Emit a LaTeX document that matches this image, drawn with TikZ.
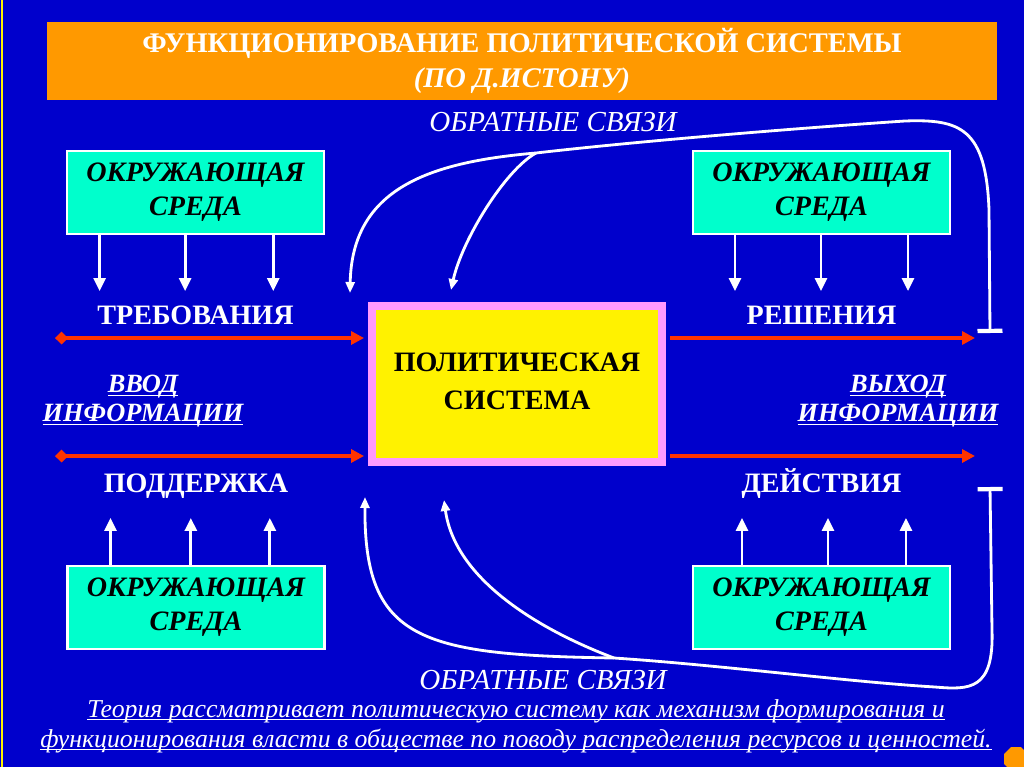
\documentclass[tikz,border=0pt]{standalone}
\usepackage{fontspec}
\setmainfont{Liberation Serif}
\usetikzlibrary{positioning, arrows.meta, calc, shapes.geometric}
\definecolor{slideblue}{RGB}{0,0,204}
\definecolor{titleorange}{RGB}{255,153,0}
\definecolor{envcyan}{RGB}{0,255,204}
\definecolor{syspink}{RGB}{255,153,255}
\definecolor{flowred}{RGB}{255,51,0}
\newcommand{\ulined}[1]{\underline{\smash{#1}}}

\begin{document}
\begin{tikzpicture}[
  x=0.02cm, y=-0.02cm,
  font=\fontsize{16}{19}\selectfont,
  node distance=1.3cm,
  env/.style={rectangle, draw=white, line width=1.2pt, fill=envcyan, minimum width=5.14cm, minimum height=1.66cm, align=center, font=\fontsize{16}{19.3}\selectfont\bfseries\itshape},
  flow/.style={text=white, font=\fontsize{16}{19}\selectfont\bfseries},
  info/.style={text=white, align=center, font=\fontsize{15}{16.4}\selectfont\bfseries\itshape},
  fbtext/.style={text=white, inner sep=1pt, font=\fontsize{16.5}{19}\selectfont\itshape},
  arr/.style={-{Triangle[length=2.6mm, width=2.4mm]}, white, line width=1.6pt},
  redin/.style={{Diamond[length=2.6mm, width=2.6mm]}-{Triangle[length=2.6mm, width=2.6mm]}, flowred, line width=2.2pt},
  redout/.style={-{Triangle[length=2.6mm, width=2.6mm]}, flowred, line width=2.2pt},
  fb/.style={white, line width=1.6pt},
  fbend/.style={fb, {Bar[width=5mm, line width=2.4pt]}-},
  fbarr/.style={fb, -{Triangle[length=2.2mm, width=1.8mm]}}
]
  \useasboundingbox (0,0) rectangle (1024,767);
  \fill[slideblue] (0,0) rectangle (1024,767);
  \draw[yellow, line width=1.1pt] (2,0) -- (2,767);
  \node[rectangle, fill=titleorange, minimum width=19cm, minimum height=1.56cm, align=center, text=white, font=\fontsize{16.2}{20}\selectfont\bfseries] (title) at (522,61) {ФУНКЦИОНИРОВАНИЕ ПОЛИТИЧЕСКОЙ СИСТЕМЫ\\\itshape (ПО Д.ИСТОНУ)};
  \node[rectangle, draw=syspink, line width=0.16cm, fill=yellow, minimum width=5.8cm, minimum height=3.12cm, align=center, text depth=3pt, font=\fontsize{16}{21.5}\selectfont\bfseries] (sys) at (517,384) {ПОЛИТИЧЕСКАЯ\\СИСТЕМА};
  \node[env] (envTL) at (195.5,192.5) {ОКРУЖАЮЩАЯ\\СРЕДА};
  \node[env] (envTR) at (821.5,192.5) {ОКРУЖАЮЩАЯ\\СРЕДА};
  \node[env] (envBL) at (196,607.5) {ОКРУЖАЮЩАЯ\\СРЕДА};
  \node[env] (envBR) at (821.5,607.5) {ОКРУЖАЮЩАЯ\\СРЕДА};
  \node[flow, below=of envTL] (demands) {ТРЕБОВАНИЯ};
  \node[flow, below=of envTR] (decisions) {РЕШЕНИЯ};
  \node[flow, above=1.2cm of envBL] (support) {ПОДДЕРЖКА};
  \node[flow, above=1.2cm of envBR] (actions) {ДЕЙСТВИЯ};
  \node[info] (input) at (143,409) {\ulined{ВВОД}\\\ulined{ИНФОРМАЦИИ}};
  \node[info] (output) at (898,409) {\ulined{ВЫХОД}\\\ulined{ИНФОРМАЦИИ}};
  \node[fbtext] (fbtop) at (553,122) {ОБРАТНЫЕ СВЯЗИ};
  \node[fbtext] (fbbot) at (543,680) {ОБРАТНЫЕ СВЯЗИ};
  \node[text=white, align=center, inner sep=1pt, font=\fontsize{14.66}{17}\selectfont\itshape] (theory) at (516,734) {\ulined{Теория рассматривает политическую систему как механизм формирования и}\\\ulined{функционирования власти в обществе по поводу распределения ресурсов и ценностей.}};
  \node[regular polygon, regular polygon sides=8, fill=titleorange, minimum size=0.52cm, inner sep=0pt] (nav) at (1016,759) {};
  \foreach \f in {0.13,0.46,0.8} \draw[arr] ($(envTL.south west)!\f!(envTL.south east)$) -- ++(0,56);
  \foreach \f in {0.166,0.498,0.834} \draw[arr] ($(envTR.south west)!\f!(envTR.south east)$) -- ++(0,56);
  \foreach \f in {0.17,0.48,0.785} \draw[arr] ($(envBL.north west)!\f!(envBL.north east)$) -- ++(0,-47);
  \foreach \f in {0.193,0.525,0.826} \draw[arr] ($(envBR.north west)!\f!(envBR.north east)$) -- ++(0,-47);
  \coordinate (inA) at (55,338);
  \coordinate (inB) at (55,456);
  \coordinate (outA) at (975,338);
  \coordinate (outB) at (975,456);
  \draw[redin, shorten >=0.08cm] (inA) -- (inA -| sys.west);
  \draw[redin, shorten >=0.08cm] (inB) -- (inB -| sys.west);
  \draw[redout, shorten <=0.08cm] (outA -| sys.east) -- (outA);
  \draw[redout, shorten <=0.08cm] (outB -| sys.east) -- (outB);
  \coordinate (fbT) at (990,333);
  \coordinate (fbB) at (990,487);
  \coordinate (fbTj) at (536,153);
  \coordinate (fbBj) at (614,658);
  \draw[fbend] (fbT) -- (989,210) .. controls (986,128) and (960,119) .. (905,121) .. controls (800,128) and (640,141) .. (fbTj);
  \draw[fbarr] (fbTj) .. controls (430,162) and (352,188) .. (350,293);
  \draw[fbarr] (fbTj) .. controls (505,170) and (462,240) .. (451,290);
  \draw[fbend] (fbB) -- (992,630) .. controls (994,690) and (970,690) .. (935,687) .. controls (850,682) and (720,665) .. (fbBj);
  \draw[fbarr] (fbBj) .. controls (420,655) and (364,640) .. (365,497);
  \draw[fbarr] (fbBj) .. controls (540,630) and (455,580) .. (444,500);
\end{tikzpicture}
\end{document}
